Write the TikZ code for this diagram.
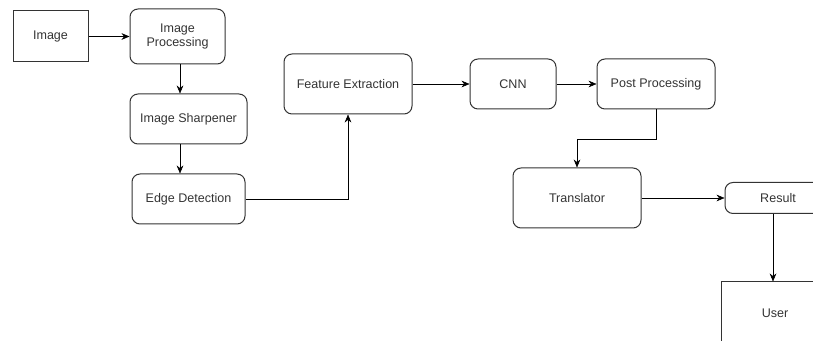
\documentclass[tikz,border=0pt]{standalone}
\usepackage{fontspec}
\setmainfont{Liberation Sans}
\usetikzlibrary{arrows.meta}
\definecolor{boxline}{HTML}{333333}
\tikzset{
  block/.style={draw=boxline,line width=0.75pt,rounded corners=6pt,align=center,
    font=\fontsize{9.4}{11}\selectfont,text=boxline,inner sep=0pt},
  flat/.style={block,rounded corners=0pt}
}
\begin{document}
\begin{tikzpicture}[x=0.75pt,y=-0.75pt,>={Stealth[length=6pt,width=5pt]}]
    \useasboundingbox (0,0) rectangle (813,341);
    \clip (0,0) rectangle (813,341);

    \node[flat,minimum width=56.25pt,minimum height=38.25pt] (img) at (50.5,36.5) {Image};
    \node[block,minimum width=71.25pt,minimum height=41.25pt] (proc) at (177.5,36.5) {Image\\Processing};
    \node[block,minimum width=87.75pt,minimum height=37.5pt] (sharp) at (188.5,119) {Image Sharpener};
    \node[block,minimum width=84.75pt,minimum height=37.5pt] (edge) at (188.5,199) {Edge Detection};
    \node[block,minimum width=96pt,minimum height=45pt] (feat) at (348,84) {Feature Extraction};
    \node[block,minimum width=64.5pt,minimum height=37.5pt] (cnn) at (513,84) {CNN};
    \node[block,minimum width=88.5pt,minimum height=37.5pt] (post) at (656,84) {Post Processing};
    \node[block,minimum width=96pt,minimum height=45pt] (trans) at (577,198) {Translator};
    \node[block,minimum width=79.5pt,minimum height=23.25pt] (res) at (778,198) {Result};
    \node[flat,minimum width=81pt,minimum height=46.5pt] (user) at (775,313) {User};

    % left column
    \draw[->] (img) -- (proc);
    \draw[->] (proc.south -| 180,0) -- (sharp.north -| 180,0);
    \draw[->] (sharp.south -| 180,0) -- (edge.north -| 180,0);
    \draw[->] (edge) -| (feat);

    % top row
    \draw[->] (feat) -- (cnn);
    \draw[->] (cnn) -- (post);
    \draw[->] (post.south) -- ++(0,30) -| (trans.north);

    % output
    \draw[->] (trans) -- (res);
    \draw[->] (res.south -| 773,0) -- (user.north -| 773,0);
  \end{tikzpicture}
\end{document}
